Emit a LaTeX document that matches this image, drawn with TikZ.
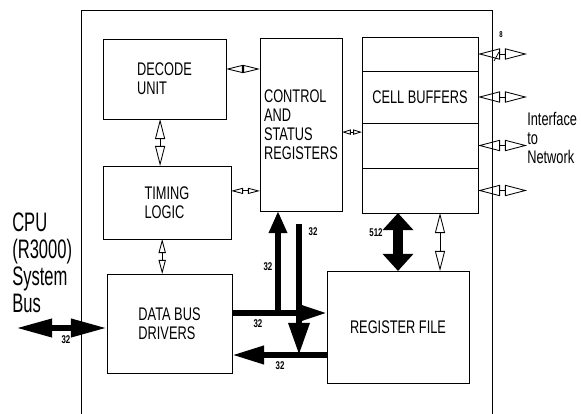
\documentclass[tikz,border=0pt]{standalone}
\usepackage{fontspec}
\setmainfont{Liberation Sans}[FakeStretch=0.7]
\newfontfamily\cpufont{Liberation Sans}[FakeStretch=0.62]
\usetikzlibrary{arrows.meta,positioning}

\begin{document}
\begin{tikzpicture}[x=0.025cm, y=-0.025cm,
    every node/.style={font=\fontsize{13}{13.5}\selectfont},
    blk/.style 2 args={draw, line width=0.6pt, outer sep=0pt, inner sep=0pt, align=left,
      minimum width=#1*0.025cm, minimum height=#2*0.025cm},
    dbl/.style 2 args={line width=0.6pt,
      arrows={Triangle[open,length=#1,width=#2]-Triangle[open,length=#1,width=#2]}},
    bus/.style={line width=4.3pt},
    bustip/.style 2 args={-{Triangle[length=#1,width=#2]}},
    lbl/.style={font=\fontsize{8}{9}\selectfont\bfseries, inner sep=0pt}]
  \useasboundingbox (0,0) rectangle (581,414);
  % board outline
  \draw[line width=0.6pt] (81,414) |- (492,10) -- (492,414);

  % blocks
  \node[blk={123}{80}] (dec) at (164.5,79) {DECODE\\UNIT};
  \node[blk={82}{173}] (csr) at (301,124.5) {CONTROL\\AND\\STATUS\\REGISTERS};
  \node[blk={128}{73}] (tim) at (167,202.5) {TIMING\\LOGIC};
  \node[blk={125}{99}] (dbd) at (169.5,323.5) {DATA BUS\\DRIVERS};
  \node[blk={142}{112}] (reg) at (398,327) {REGISTER FILE};
  \node[blk={116}{34}, anchor=north] (cb1) at (420,37) {};
  \node[blk={116}{52}, below=0pt of cb1] (cb2) {CELL BUFFERS};
  \node[blk={116}{45}, below=0pt of cb2] (cb3) {};
  \node[blk={116}{45}, below=0pt of cb3] (cb4) {};

  % outside labels
  \node[font=\cpufont\fontsize{19}{19.2}\selectfont, align=left, anchor=north west, inner sep=0pt] (cpu) at (12,213) {CPU\\(R3000)\\System\\Bus};
  \node[align=left, anchor=west, inner sep=0pt] (net) at (527,138) {Interface\\to\\Network};

  % control paths
  \draw[dbl={0.42cm}{0.2cm}] ([yshift=0.25cm]dec.east) -- ([yshift=0.25cm]dec.east -| csr.west);
  \draw[dbl={0.5cm}{0.25cm}] ([xshift=-0.11cm]dec.south) coordinate (a1) -- (a1 |- tim.north);
  \draw[dbl={0.3cm}{0.15cm}] ([yshift=0.29cm]tim.east) -- ([yshift=0.29cm]tim.east -| csr.west);
  \draw[dbl={0.22cm}{0.13cm}] ([yshift=-0.19cm]csr.east) -- ([yshift=-0.19cm]csr.east -| cb3.west);
  \draw[dbl={0.35cm}{0.18cm}] ([xshift=-0.12cm]tim.south) coordinate (a2) -- (a2 |- dbd.north);
  \draw[dbl={0.5cm}{0.25cm}] ([xshift=1.05cm]reg.north) coordinate (a3) -- (a3 |- cb4.south);

  % network side
  \coordinate (nx) at (527,0);
  \foreach \c in {cb1,cb2,cb3,cb4}
    \draw[dbl={0.55cm}{0.28cm}] (\c.east) -- (\c.east -| nx);
  \draw[line width=0.5pt] (494,61) -- (499,52);
  \node[lbl, font=\fontsize{6}{7}\selectfont\bfseries] (w8) at (501,35) {8};

  % data paths
  \coordinate (j1) at (278,313);
  \coordinate (j2) at (299,224);
  \coordinate (j3) at (299,355);
  \coordinate (cpubus) at (16,328);
  \draw[bus, {Triangle[length=0.9cm,width=0.43cm]}-{Triangle[length=0.9cm,width=0.43cm]}] (cpubus) -- (cpubus -| dbd.west);
  \draw[bus, bustip={0.75cm}{0.43cm}] (dbd.east |- j1) -- (reg.west |- j1);
  \draw[bus, bustip={0.55cm}{0.43cm}] (j1) -- (j1 |- csr.south);
  \draw[bus, bustip={0.8cm}{0.5cm}] (j2) -- (j3);
  \draw[bus, bustip={0.8cm}{0.43cm}] (reg.west |- j3) -- (dbd.east |- j3);
  \draw[line width=7pt, {Triangle[length=0.43cm,width=0.75cm]}-{Triangle[length=0.43cm,width=0.75cm]}] (reg.north) -- (reg.north |- cb4.south);

  % bus widths
  \node[lbl] (w1) at (66,340) {32};
  \node[lbl] (w2) at (258,324) {32};
  \node[lbl] (w3) at (280,366) {32};
  \node[lbl] (w4) at (268,267) {32};
  \node[lbl] (w5) at (313,232) {32};
  \node[lbl] (w6) at (376,233) {512};
\end{tikzpicture}
\end{document}
